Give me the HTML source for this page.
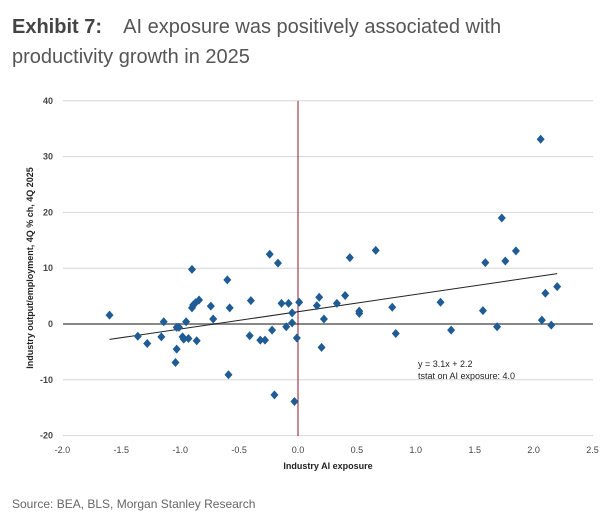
<!DOCTYPE html>
<html><head><meta charset="utf-8">
<style>
body{margin:0;background:#fff;width:607px;height:530px;overflow:hidden;font-family:"Liberation Sans",sans-serif;}
.t{position:absolute;left:12px;color:#555;font-size:20px;line-height:30px;}
</style></head><body>
<div class="t" style="top:12px;width:590px;"><b style="color:#444">Exhibit 7:</b>&nbsp;&nbsp;&nbsp; AI exposure was positively associated with<br>productivity growth in 2025</div>
<svg id="c" width="607" height="530" style="position:absolute;left:0;top:0"></svg>
<div style="position:absolute;left:12px;top:497px;font-size:12px;color:#666;">Source: BEA, BLS, Morgan Stanley Research</div>
<script>
const xTicks=[-2.0,-1.5,-1.0,-0.5,0.0,0.5,1.0,1.5,2.0,2.5];
const yTicks=[-20,-10,0,10,20,30,40];
const xs=[-1.6,-1.36,-1.28,-1.16,-1.14,-1.03,-1.01,-1.03,-1.04,-0.98,-0.97,-0.95,-0.93,-0.9,-0.9,-0.89,-0.87,-0.84,-0.86,-0.74,-0.72,-0.6,-0.58,-0.59,-0.4,-0.41,-0.32,-0.28,-0.24,-0.17,-0.22,-0.2,-0.14,-0.08,-0.1,-0.05,-0.05,-0.01,0.01,-0.03,0.16,0.18,0.22,0.2,0.33,0.4,0.44,0.52,0.52,0.66,0.8,0.83,1.21,1.3,1.57,1.59,1.69,1.73,1.76,1.85,2.06,2.07,2.1,2.15,2.2];
const ys=[1.6,-2.2,-3.5,-2.3,0.4,-0.6,-0.6,-4.5,-6.9,-2.3,-2.7,0.4,-2.6,9.8,2.9,3.4,3.8,4.3,-3.0,3.2,0.9,7.9,2.9,-9.1,4.2,-2.1,-2.9,-2.9,12.5,10.9,-1.1,-12.7,3.7,3.7,-0.5,0.2,2.0,-2.5,3.9,-13.9,3.3,4.8,0.9,-4.2,3.7,5.1,11.9,2.3,1.9,13.2,3.0,-1.7,3.9,-1.1,2.4,11.0,-0.5,19.0,11.3,13.1,33.1,0.7,5.5,-0.2,6.7];
const slope=3.1, intercept=2.2, fitRange=[-1.6,2.2];
const X=v=>298+v*117.8, Y=v=>324-v*5.58;
const svg=document.getElementById('c'),NS='http://www.w3.org/2000/svg';
function mk(t,a,txt){const e=document.createElementNS(NS,t);for(const k in a)e.setAttribute(k,a[k]);if(txt!=null)e.textContent=txt;svg.appendChild(e);return e;}
yTicks.forEach(v=>{
 const g=mk('line',{x1:63,x2:593,y1:Y(v),y2:Y(v),stroke:v===0?'#888':'#d6d6d6','stroke-width':v===0?2:1});
 
 
 const t=mk('text',{x:53,y:Y(v)+3,'text-anchor':'end','font-size':9,'font-weight':'bold',fill:'#444'},String(v));
 
 
});
xTicks.forEach(v=>{
 const t=mk('text',{x:X(v),y:453,'text-anchor':'middle','font-size':9,fill:'#444'},v.toFixed(1));
 
 
});
const vl=mk('line',{x1:X(0),x2:X(0),y1:101,y2:436,stroke:'#8b1a2a','stroke-width':1});


const fl=mk('line',{x1:X(fitRange[0]),y1:Y(slope*fitRange[0]+intercept),x2:X(fitRange[1]),y2:Y(slope*fitRange[1]+intercept),stroke:'#222','stroke-width':1});


xs.forEach((x,i)=>{
 const cx=X(x),cy=Y(ys[i]);
 const p=mk('polygon',{points:`${cx},${cy-4.5} ${cx+4},${cy} ${cx},${cy+4.5} ${cx-4},${cy}`,fill:'#1f5b94'});
 
 
});
const a1=mk('text',{x:418,y:367,'font-size':9,fill:'#222'},'y = 3.1x + 2.2');


const a2=mk('text',{x:418,y:379,'font-size':9,fill:'#222'},'tstat on AI exposure: 4.0');


const xt=mk('text',{x:328,y:469,'text-anchor':'middle','font-size':9,'font-weight':'bold',fill:'#222'},'Industry AI exposure');


const yt=mk('text',{x:0,y:0,'text-anchor':'middle','font-size':9,'font-weight':'bold',fill:'#222',transform:'translate(33,268) rotate(-90)'},'Industry output/employment, 4Q % ch, 4Q 2025');


</script>
</body></html>
